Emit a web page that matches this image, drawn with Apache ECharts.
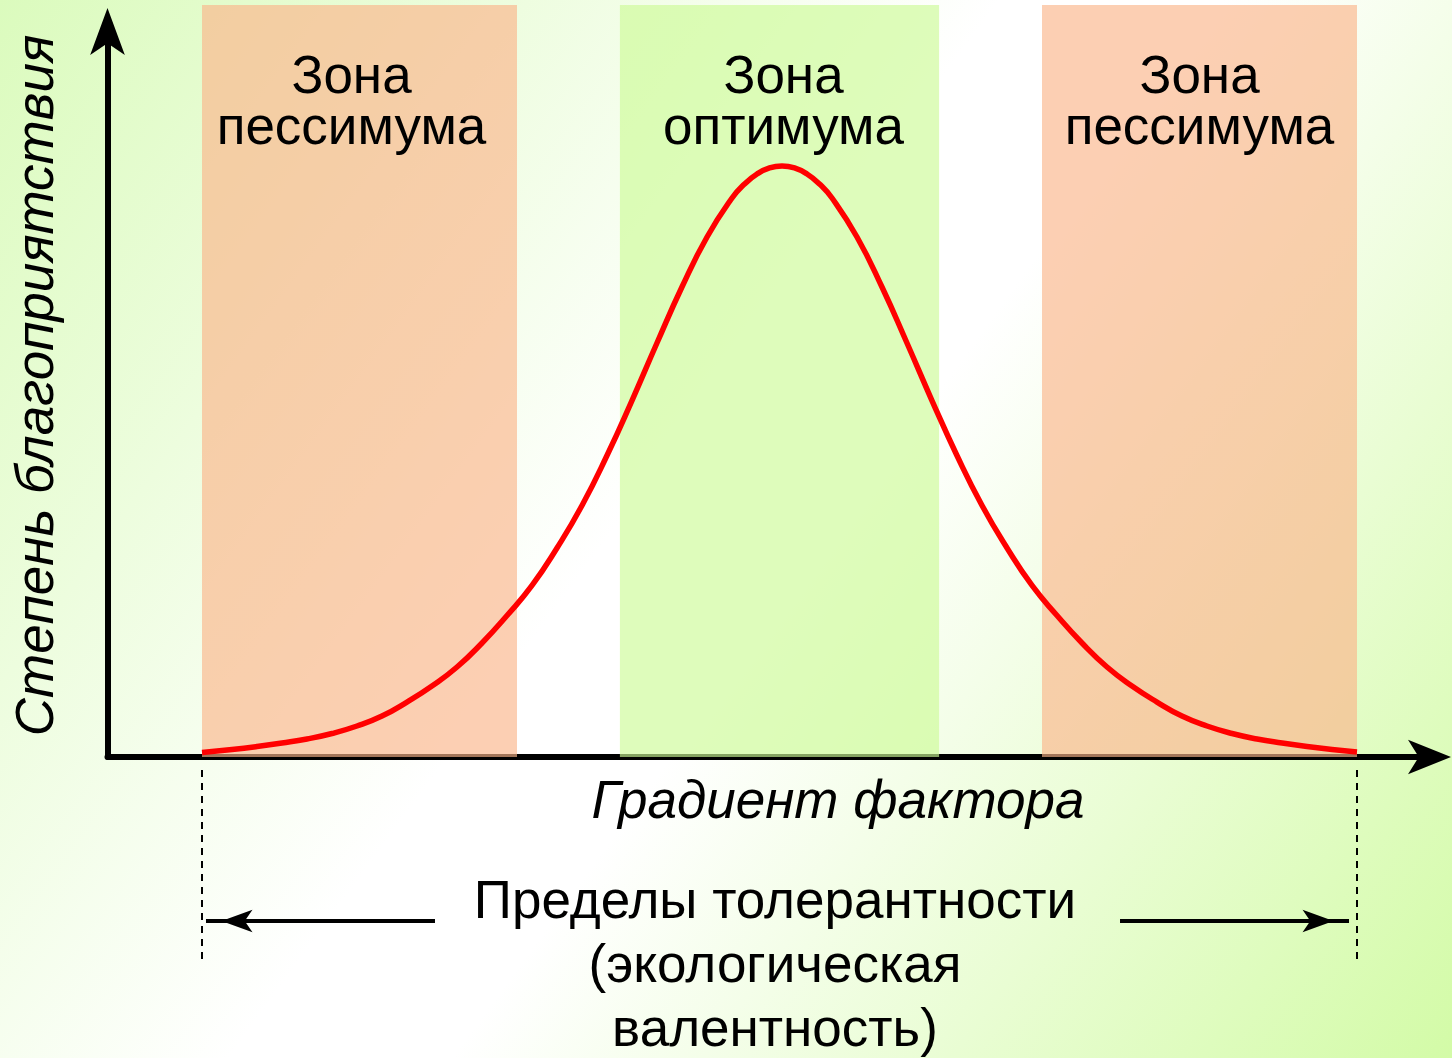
<!DOCTYPE html>
<html>
<head>
<meta charset="utf-8">
<script src="https://cdn.jsdelivr.net/npm/echarts@6/dist/echarts.min.js"></script>
<style>
html,body{margin:0;padding:0;overflow:hidden;background:#fff}
#chart{width:1452px;height:1058px}
</style>
</head>
<body>
<div id="chart"></div>
<script>
// ---- data ----
const gradientX = [0, 0.286, 0.524, 0.762, 1.0, 1.238, 1.476, 1.714, 1.952, 2.19, 2.429, 2.667,
  2.905, 3.143, 3.381, 3.619, 3.857, 4.095, 4.333, 4.571, 4.81, 5.048, 5.167, 5.286, 5.405, 5.524,
  5.643, 5.762, 5.881, 6.0, 6.238, 6.476, 6.714, 6.952, 7.19, 7.429, 7.667, 7.905, 8.143, 8.381,
  8.619, 8.857, 9.095, 9.333, 9.571, 9.81, 10.048, 10.286, 10.524, 10.762, 11.0];
const favourability = [0.62, 1.03, 1.44, 1.92, 2.47, 3.22, 4.25, 5.62, 7.54, 9.74, 12.35, 15.64,
  19.41, 23.53, 28.67, 34.5, 41.36, 48.9, 56.79, 64.47, 71.33, 76.68, 78.6, 79.97, 80.8, 81.07,
  80.8, 79.97, 78.6, 76.68, 71.33, 64.47, 56.79, 48.9, 41.36, 34.5, 28.67, 23.53, 19.41, 15.64,
  12.35, 9.74, 7.54, 5.62, 4.25, 3.22, 2.47, 1.92, 1.44, 1.03, 0.69];
const zoneNames = ['Зона\nпессимума', 'Зона\nоптимума', 'Зона\nпессимума'];
const zoneStart = [0, 3.98, 8];
const zoneEnd = [3, 7.02, 11];
const zoneKind = ['pessimum', 'optimum', 'pessimum'];
const toleranceLimits = [0, 11];
const limitLineY = [-1.78, -27.85];
const arrowY = -22.5;
const leftArrowX = [2.219, 0.038];
const rightArrowX = [8.743, 10.924];
const xAxisName = 'Градиент фактора';
const yAxisName = 'Степень благоприятствия';
const toleranceText = 'Пределы толерантности\n(экологическая\nвалентность)';

// ---- styling ----
const FONT = '"Liberation Sans", Arial, Helvetica, sans-serif';
const X_MIN = -0.9, X_MAX = 11.7;
const zoneColors = { pessimum: 'rgba(250,182,139,0.65)', optimum: 'rgba(205,250,150,0.65)' };
const zoneLabelOffsets = [[-8, 0], [4, 0], [0, 0]];

const chart = echarts.init(document.getElementById('chart'), null, { renderer: 'canvas' });

const hiddenAxis = (gi, min, max) => ({
  gridIndex: gi, type: 'value', min: min, max: max, show: false,
  axisLine: { show: false }, axisTick: { show: false }, axisLabel: { show: false }, splitLine: { show: false }
});

const arrowSeries = (xs, rotate, offset) => ({
  type: 'line', xAxisIndex: 2, yAxisIndex: 2, z: 4,
  symbol: 'arrow', symbolSize: [17, 31], symbolRotate: rotate, symbolOffset: [offset, 0],
  showSymbol: true, silent: true,
  lineStyle: { color: '#000', width: 4 },
  itemStyle: { color: '#000' },
  data: [{ value: [xs[0], arrowY], symbol: 'none' }, { value: [xs[1], arrowY] }]
});

const option = {
  animation: false,
  graphic: [
    {
      type: 'rect', z: -100, silent: true,
      shape: { x: 0, y: 0, width: 1452, height: 1058 },
      style: {
        fill: new echarts.graphic.LinearGradient(0, 0, 1, 1, [
          { offset: 0, color: '#dbfbbd' },
          { offset: 0.45, color: '#ffffff' },
          { offset: 0.55, color: '#ffffff' },
          { offset: 1, color: '#d3fba7' }
        ])
      }
    },
    {
      type: 'text', silent: true, z: 10,
      x: 775, y: 967,
      style: {
        text: toleranceText, fill: '#000',
        font: '53px ' + FONT, fontSize: 53, fontFamily: FONT,
        align: 'center', textAlign: 'center',
        verticalAlign: 'middle', textVerticalAlign: 'middle',
        lineHeight: 64
      }
    }
  ],
  grid: [
    { left: 107.5, right: 21.5, top: 28, bottom: 301 },
    { left: 107.5, right: 21.5, top: 5, bottom: 301 },
    { left: 107.5, right: 21.5, top: 757, height: 291.6 }
  ],
  xAxis: [
    {
      gridIndex: 0, type: 'value', min: X_MIN, max: X_MAX,
      axisLine: {
        show: true, onZero: false, symbol: ['none', 'arrow'], symbolSize: [26, 43], symbolOffset: [0, 20.5],
        lineStyle: { color: '#000', width: 6 }
      },
      axisTick: { show: false }, axisLabel: { show: false }, splitLine: { show: false },
      name: xAxisName, nameLocation: 'middle', nameGap: 20,
      nameTextStyle: { fontSize: 53, fontStyle: 'italic', color: '#000', fontFamily: FONT, padding: [0, 0, 0, 138] }
    },
    hiddenAxis(1, X_MIN, X_MAX),
    hiddenAxis(2, X_MIN, X_MAX)
  ],
  yAxis: [
    {
      gridIndex: 0, type: 'value', min: 0, max: 100,
      axisLine: {
        show: true, onZero: false, symbol: ['none', 'arrow'], symbolSize: [26, 47], symbolOffset: [0, 20],
        lineStyle: { color: '#000', width: 6 }
      },
      axisTick: { show: false }, axisLabel: { show: false }, splitLine: { show: false },
      name: yAxisName, nameLocation: 'middle', nameRotate: 90, nameGap: 43,
      nameTextStyle: { fontSize: 53, fontStyle: 'italic', color: '#000', fontFamily: FONT, padding: [0, 0, 0, 14] }
    },
    hiddenAxis(1, 0, 1),
    hiddenAxis(2, -40, 0)
  ],
  series: [
    {
      type: 'line', xAxisIndex: 1, yAxisIndex: 1, z: 1, data: [], silent: true,
      markArea: {
        silent: true,
        data: zoneNames.map((n, i) => [
          {
            xAxis: zoneStart[i], name: n,
            itemStyle: { color: zoneColors[zoneKind[i]], borderWidth: 0 },
            label: {
              show: true, position: 'insideTop', distance: 47.5, offset: zoneLabelOffsets[i],
              formatter: n, color: '#000', fontSize: 53, lineHeight: 51, fontFamily: FONT, align: 'center'
            }
          },
          { xAxis: zoneEnd[i] }
        ])
      }
    },
    {
      type: 'line', xAxisIndex: 0, yAxisIndex: 0, z: 3, smooth: true, symbol: 'none', silent: true,
      lineStyle: { color: '#ff0000', width: 5.5 },
      data: gradientX.map((x, i) => [x, favourability[i]])
    },
    ...toleranceLimits.map(lim => ({
      type: 'line', xAxisIndex: 2, yAxisIndex: 2, z: 3, symbol: 'none', silent: true,
      lineStyle: { color: '#000', width: 2, type: [7, 6] },
      data: [[lim, limitLineY[0]], [lim, limitLineY[1]]]
    })),
    arrowSeries(leftArrowX, 90, 15.5),
    arrowSeries(rightArrowX, -90, -15.5)
  ]
};

chart.setOption(option);
</script>
</body>
</html>
